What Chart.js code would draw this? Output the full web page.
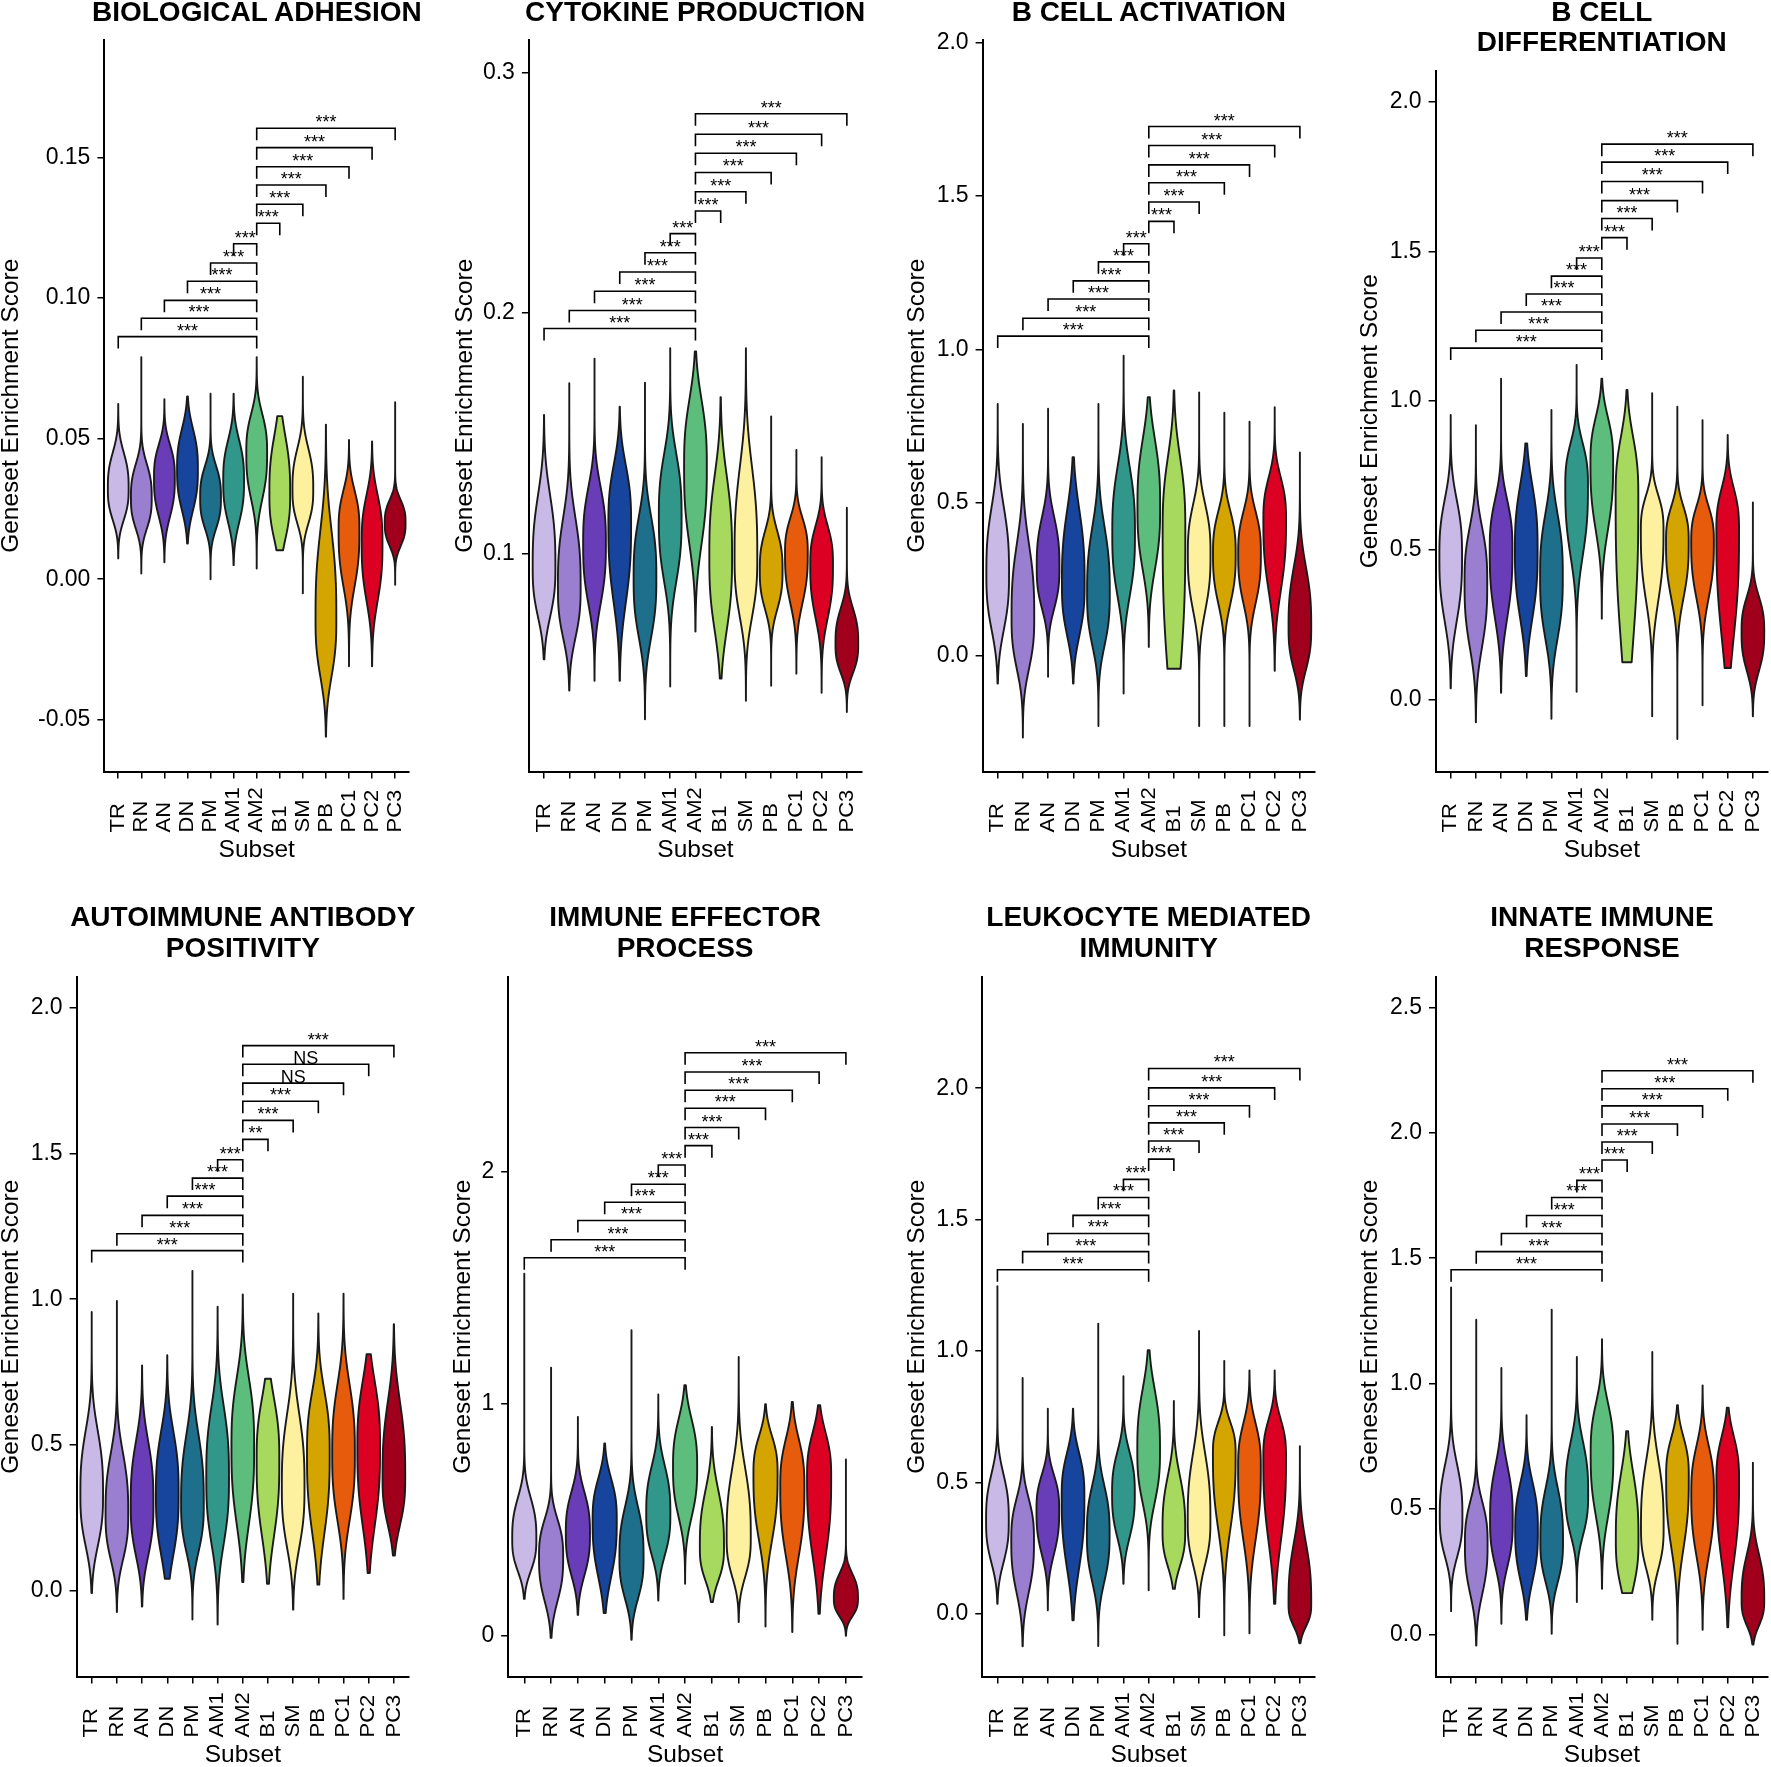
<!DOCTYPE html>
<html>
<head>
<meta charset="utf-8">
<script src="https://cdn.jsdelivr.net/npm/chart.js@4.4.1/dist/chart.umd.min.js"></script>
<style>
html, body { margin: 0; padding: 0; background: #fff; }
body { position: relative; width: 1771px; height: 1767px; overflow: hidden; font-family: "Liberation Sans", Arial, sans-serif; }
canvas { position: absolute; }
.ttl { position: absolute; width: 480px; text-align: center; font-weight: bold; font-size: 28px; line-height: 30.5px; color: #000; white-space: nowrap; }
</style>
</head>
<body>
<script>
const FONT = '"Liberation Sans", Arial, sans-serif';

const subsets = ['TR', 'RN', 'AN', 'DN', 'PM', 'AM1', 'AM2', 'B1', 'SM', 'PB', 'PC1', 'PC2', 'PC3'];
const subsetColors = ['#c9b9e6', '#9a7fd0', '#6a3db8', '#17449c', '#1e6f8c', '#31978a', '#5cbd7c',
                      '#a8d95f', '#fdf1a0', '#d4a500', '#e65c0c', '#dc0022', '#a0001c'];
const AM2 = 6;

// each violin: [min, lower shoulder, widest, upper shoulder, max]
const adhesionViolins = [
  [0.0074, 0.0145, 0.0323, 0.0525, 0.0623], [0.002, 0.0115, 0.029, 0.048, 0.079],
  [0.006, 0.014, 0.036, 0.055, 0.064], [0.0127, 0.016, 0.039, 0.062, 0.065],
  [0.0, 0.0115, 0.029, 0.047, 0.066], [0.005, 0.0115, 0.035, 0.058, 0.066],
  [0.0038, 0.0186, 0.045, 0.067, 0.079], [0.0103, 0.0046, 0.0305, 0.063, 0.058],
  [-0.005, 0.0127, 0.032, 0.055, 0.072], [-0.056, -0.047, -0.014, 0.036, 0.055],
  [-0.031, -0.0146, 0.0175, 0.040, 0.0495], [-0.031, -0.02, 0.013, 0.040, 0.049],
  [-0.002, 0.007, 0.020, 0.033, 0.063]
];
const cytokineViolins = [
  [0.056, 0.0612, 0.0945, 0.1417, 0.1576], [0.043, 0.052, 0.0862, 0.132, 0.1708],
  [0.047, 0.064, 0.104, 0.1417, 0.181], [0.047, 0.060, 0.1125, 0.151, 0.161],
  [0.031, 0.050, 0.090, 0.1306, 0.171], [0.0446, 0.0723, 0.1153, 0.1569, 0.1853],
  [0.0675, 0.0848, 0.136, 0.1805, 0.184], [0.048, 0.05, 0.0987, 0.152, 0.165],
  [0.0387, 0.0585, 0.0987, 0.158, 0.1853], [0.045, 0.067, 0.093, 0.119, 0.157],
  [0.050, 0.067, 0.10, 0.1235, 0.143], [0.042, 0.060, 0.0953, 0.121, 0.140],
  [0.034, 0.043, 0.0624, 0.086, 0.119]
];
const activationViolins = [
  [-0.089, -0.024, 0.269, 0.616, 0.822], [-0.265, -0.143, 0.128, 0.507, 0.757],
  [-0.067, 0.074, 0.29, 0.551, 0.806], [-0.089, -0.035, 0.236, 0.62, 0.648],
  [-0.228, -0.067, 0.204, 0.551, 0.822], [-0.122, 0.074, 0.399, 0.746, 0.979],
  [0.03, 0.16, 0.486, 0.838, 0.844], [-0.041, -0.34, 0.407, 0.793, 0.866],
  [-0.228, 0.039, 0.333, 0.59, 0.859], [-0.228, 0.076, 0.333, 0.554, 0.793],
  [-0.228, 0.076, 0.333, 0.554, 0.764], [-0.048, 0.076, 0.444, 0.664, 0.811],
  [-0.207, -0.126, 0.094, 0.407, 0.664]
];
const differentiationViolins = [
  [0.037, 0.134, 0.479, 0.779, 0.952], [-0.077, 0.045, 0.39, 0.69, 0.918],
  [0.022, 0.134, 0.50, 0.768, 1.074], [0.078, 0.134, 0.50, 0.846, 0.857],
  [-0.065, 0.078, 0.412, 0.746, 0.969], [0.025, 0.339, 0.716, 0.942, 1.12],
  [0.27, 0.433, 0.791, 1.036, 1.074], [0.124, -0.1, 0.678, 0.999, 1.036],
  [-0.057, 0.188, 0.565, 0.754, 1.025], [-0.133, 0.225, 0.528, 0.716, 0.98],
  [-0.02, 0.225, 0.528, 0.716, 0.935], [0.105, 0.0, 0.565, 0.791, 0.885],
  [-0.057, 0.018, 0.225, 0.414, 0.659]
];
const autoimmuneViolins = [
  [-0.009, 0.046, 0.332, 0.676, 0.956], [-0.074, 0.011, 0.263, 0.596, 0.994],
  [-0.055, 0.011, 0.298, 0.641, 0.773], [0.04, -0.004, 0.332, 0.676, 0.808],
  [-0.10, 0.034, 0.298, 0.676, 1.097], [-0.117, 0.023, 0.389, 0.779, 0.974],
  [0.029, 0.069, 0.493, 0.871, 1.016], [0.023, 0.034, 0.447, 0.784, 0.727],
  [-0.066, 0.023, 0.355, 0.756, 1.019], [0.02, 0.034, 0.47, 0.813, 0.951],
  [-0.029, 0.103, 0.47, 0.848, 1.019], [0.06, 0.063, 0.493, 0.85, 0.811],
  [0.12, 0.126, 0.389, 0.802, 0.914]
];
const effectorViolins = [
  [0.159, 0.195, 0.418, 0.698, 1.56], [-0.009, 0.037, 0.339, 0.598, 1.155],
  [0.09, 0.152, 0.44, 0.727, 0.943], [0.098, 0.109, 0.497, 0.784, 0.828],
  [-0.017, 0.052, 0.339, 0.684, 1.316], [0.152, 0.239, 0.526, 0.856, 1.039],
  [0.224, 0.382, 0.727, 1.057, 1.079], [0.145, 0.152, 0.382, 0.77, 0.899],
  [0.059, 0.152, 0.425, 0.899, 1.201], [0.04, 0.239, 0.698, 0.957, 0.997],
  [0.016, 0.167, 0.641, 0.971, 1.007], [0.095, 0.138, 0.684, 0.989, 0.993],
  [0.0, 0.038, 0.161, 0.33, 0.759]
];
const leukocyteViolins = [
  [0.038, 0.10, 0.355, 0.635, 1.246], [-0.124, -0.038, 0.279, 0.533, 0.897],
  [0.013, 0.127, 0.393, 0.609, 0.78], [-0.025, 0.013, 0.444, 0.711, 0.78],
  [-0.123, 0.013, 0.305, 0.596, 1.104], [0.114, 0.19, 0.457, 0.711, 0.904],
  [0.089, 0.305, 0.622, 0.99, 1.003], [0.095, 0.10, 0.317, 0.647, 0.81],
  [-0.013, 0.089, 0.355, 0.761, 1.076], [-0.082, 0.152, 0.609, 0.80, 0.962],
  [-0.074, 0.114, 0.558, 0.825, 0.926], [0.038, 0.082, 0.596, 0.825, 0.926],
  [-0.112, -0.10, 0.038, 0.406, 0.638]
];
const innateViolins = [
  [0.093, 0.215, 0.468, 0.80, 1.383], [-0.044, 0.043, 0.362, 0.628, 1.255],
  [0.043, 0.162, 0.455, 0.80, 1.062], [0.059, 0.096, 0.415, 0.72, 0.874],
  [0.003, 0.109, 0.375, 0.707, 1.295], [0.129, 0.295, 0.561, 0.894, 1.106],
  [0.182, 0.322, 0.721, 1.04, 1.177], [0.165, 0.069, 0.38, 0.80, 0.81],
  [0.059, 0.162, 0.428, 0.854, 1.126], [-0.037, 0.176, 0.628, 0.88, 0.914],
  [0.019, 0.162, 0.561, 0.867, 0.993], [0.029, 0.096, 0.614, 0.894, 0.904],
  [-0.04, -0.024, 0.136, 0.428, 0.685]
];

// height of each AM2 comparison bracket (null = AM2 itself)
const adhesionBrackets = [0.0863, 0.0928, 0.0992, 0.106, 0.1125, 0.1193, null, 0.1266, 0.1334, 0.1402, 0.1467, 0.1535, 0.1604];
const cytokineBrackets = [0.1935, 0.201, 0.209, 0.217, 0.225, 0.233, null, 0.2424, 0.2504, 0.2584, 0.2664, 0.2743, 0.2828];
const activationBrackets = [1.043, 1.101, 1.164, 1.223, 1.285, 1.344, null, 1.417, 1.48, 1.543, 1.601, 1.664, 1.726];
const differentiationBrackets = [1.176, 1.236, 1.297, 1.357, 1.417, 1.478, null, 1.546, 1.61, 1.67, 1.734, 1.799, 1.859];
const autoimmuneBrackets = [1.167, 1.225, 1.288, 1.354, 1.416, 1.479, null, 1.549, 1.614, 1.68, 1.742, 1.807, 1.871];
const effectorBrackets = [1.628, 1.706, 1.789, 1.867, 1.945, 2.028, null, 2.111, 2.189, 2.272, 2.35, 2.428, 2.511];
const leukocyteBrackets = [1.309, 1.378, 1.447, 1.516, 1.584, 1.653, null, 1.73, 1.799, 1.868, 1.933, 2.001, 2.075];
const innateBrackets = [1.454, 1.526, 1.598, 1.67, 1.742, 1.81, null, 1.891, 1.963, 2.035, 2.107, 2.175, 2.247];

const allStars = ['***', '***', '***', '***', '***', '***', '', '***', '***', '***', '***', '***', '***'];
const autoimmuneStars = ['***', '***', '***', '***', '***', '***', '', '**', '***', '***', 'NS', 'NS', '***'];

const adhesionTicks = ['-0.05', '0.00', '0.05', '0.10', '0.15'];
const cytokineTicks = ['0.1', '0.2', '0.3'];
const halfTicks = ['0.0', '0.5', '1.0', '1.5', '2.0'];
const effectorTicks = ['0', '1', '2'];
const innateTicks = ['0.0', '0.5', '1.0', '1.5', '2.0', '2.5'];

const panels = [
  { title: ['BIOLOGICAL ADHESION'], violins: adhesionViolins, brackets: adhesionBrackets, stars: allStars, ticks: adhesionTicks,
    yMin: -0.0684, yMax: 0.1918, axisX: 104.4, rightX: 409.4, topY: 39.5, baseY: 771.5, yTitleX: 11.3, subsetY: 850, titleTop: -3.25 },
  { title: ['CYTOKINE PRODUCTION'], violins: cytokineViolins, brackets: cytokineBrackets, stars: allStars, ticks: cytokineTicks,
    yMin: 0.0093, yMax: 0.3135, axisX: 528.9, rightX: 861.5, topY: 39.5, baseY: 771.5, yTitleX: 465, subsetY: 850, titleTop: -3.25 },
  { title: ['B CELL ACTIVATION'], violins: activationViolins, brackets: activationBrackets, stars: allStars, ticks: halfTicks,
    yMin: -0.376, yMax: 2.008, axisX: 982.6, rightX: 1315, topY: 39.5, baseY: 771.5, yTitleX: 917, subsetY: 850, titleTop: -3.25 },
  { title: ['B CELL', 'DIFFERENTIATION'], violins: differentiationViolins, brackets: differentiationBrackets, stars: allStars, ticks: halfTicks,
    yMin: -0.2418, yMax: 2.104, axisX: 1435.6, rightX: 1768, topY: 71, baseY: 771.5, yTitleX: 1370, subsetY: 850, titleTop: -3.25 },
  { title: ['AUTOIMMUNE ANTIBODY', 'POSITIVITY'], violins: autoimmuneViolins, brackets: autoimmuneBrackets, stars: autoimmuneStars, ticks: halfTicks,
    yMin: -0.2955, yMax: 2.1065, axisX: 76.6, rightX: 409, topY: 977, baseY: 1676.5, yTitleX: 11.3, subsetY: 1755, titleTop: 902.3 },
  { title: ['IMMUNE EFFECTOR', 'PROCESS'], violins: effectorViolins, brackets: effectorBrackets, stars: allStars, ticks: effectorTicks,
    yMin: -0.1754, yMax: 2.8375, axisX: 508.2, rightX: 862, topY: 977, baseY: 1676.5, yTitleX: 463, subsetY: 1755, titleTop: 902.3 },
  { title: ['LEUKOCYTE MEDIATED', 'IMMUNITY'], violins: leukocyteViolins, brackets: leukocyteBrackets, stars: allStars, ticks: halfTicks,
    yMin: -0.2388, yMax: 2.423, axisX: 982.3, rightX: 1315, topY: 977, baseY: 1676.5, yTitleX: 917, subsetY: 1755, titleTop: 902.3 },
  { title: ['INNATE IMMUNE', 'RESPONSE'], violins: innateViolins, brackets: innateBrackets, stars: allStars, ticks: innateTicks,
    yMin: -0.1675, yMax: 2.6207, axisX: 1436, rightX: 1768, topY: 977, baseY: 1676.5, yTitleX: 1370, subsetY: 1755, titleTop: 902.3 }
];

Chart.defaults.font.family = FONT;
Chart.defaults.color = '#000';

// violins, AM2 brackets and bottom-aligned subset labels, drawn on the chart's scales
function violinPlugin(p) {
  return {
    id: 'violins',
    afterDatasetsDraw(chart) {
      const { ctx, scales: { x, y } } = chart;
      ctx.save();
      ctx.lineJoin = 'round';
      p.violins.forEach((v, i) => {
        const [vMin, lo, mid, hi, vMax] = v;
        const cx = x.getPixelForValue(i);
        const half = x.getPixelForValue(i + 0.45) - cx;
        const n = 180, pts = [];
        for (let k = 0; k <= n; k++) {
          const val = vMin + (vMax - vMin) * k / n;
          const t = val >= mid ? (val - mid) / (hi - mid) : (mid - val) / (mid - lo);
          pts.push([y.getPixelForValue(val), half * Math.exp(-2.3 * Math.pow(Math.abs(t), 2.8))]);
        }
        ctx.beginPath();
        pts.forEach(([py, w], k) => k ? ctx.lineTo(cx + w, py) : ctx.moveTo(cx + w, py));
        for (let k = pts.length - 1; k >= 0; k--) ctx.lineTo(cx - pts[k][1], pts[k][0]);
        ctx.closePath();
        ctx.fillStyle = subsetColors[i];
        ctx.fill();
        ctx.strokeStyle = '#1a1a1a';
        ctx.lineWidth = 1.9;
        ctx.stroke();
      });

      ctx.strokeStyle = '#000';
      ctx.lineWidth = 1.6;
      ctx.lineJoin = 'miter';
      ctx.fillStyle = '#000';
      ctx.font = '18px ' + FONT;
      ctx.textAlign = 'center';
      ctx.textBaseline = 'alphabetic';
      p.brackets.forEach((lvl, i) => {
        if (lvl === null) return;
        const x1 = x.getPixelForValue(Math.min(i, AM2));
        const x2 = x.getPixelForValue(Math.max(i, AM2));
        const py = y.getPixelForValue(lvl);
        ctx.beginPath();
        ctx.moveTo(x1, py + 12);
        ctx.lineTo(x1, py);
        ctx.lineTo(x2, py);
        ctx.lineTo(x2, py + 12);
        ctx.stroke();
        ctx.fillText(p.stars[i], (x1 + x2) / 2, py);
      });

      ctx.font = '22px ' + FONT;
      ctx.textAlign = 'left';
      ctx.textBaseline = 'middle';
      subsets.forEach((s, i) => {
        ctx.save();
        ctx.translate(x.getPixelForValue(i), chart.chartArea.bottom + 61);
        ctx.rotate(-Math.PI / 2);
        ctx.scale(1, 0.95);
        ctx.fillText(s, 0, 0);
        ctx.restore();
      });
      ctx.restore();
    }
  };
}

panels.forEach(p => {
  const left = Math.round(p.yTitleX - 12.25);
  const top = Math.round(p.topY - 20);
  const right = Math.round(p.rightX + 12);
  const bottom = Math.round(p.subsetY + 12.25);
  const w = right - left, h = bottom - top;
  const yw = p.axisX - left;
  const xh = bottom - p.baseY;

  const cv = document.createElement('canvas');
  cv.width = w; cv.height = h;
  cv.style.left = left + 'px'; cv.style.top = top + 'px';
  cv.style.width = w + 'px'; cv.style.height = h + 'px';
  document.body.appendChild(cv);

  const ttl = document.createElement('div');
  ttl.className = 'ttl';
  ttl.style.left = ((p.axisX + p.rightX) / 2 - 240) + 'px';
  ttl.style.top = p.titleTop + 'px';
  ttl.innerHTML = p.title.join('<br>');
  document.body.appendChild(ttl);

  const axisLine = { display: true, color: '#000', width: 2 };
  const tickMarks = { display: true, drawOnChartArea: false, drawTicks: true, tickLength: 7, color: '#000', lineWidth: 1.5 };

  new Chart(cv, {
    type: 'scatter',
    data: {
      datasets: [{ data: p.violins.map((v, i) => ({ x: i, y: v[2] })), pointRadius: 0, pointHoverRadius: 0 }]
    },
    options: {
      responsive: false,
      animation: false,
      devicePixelRatio: 1,
      events: [],
      layout: { padding: { top: 20, right: 12, left: 0, bottom: 0 } },
      plugins: { legend: { display: false }, tooltip: { enabled: false } },
      scales: {
        x: {
          type: 'linear', min: -0.6, max: 12.6,
          afterBuildTicks: s => { s.ticks = subsets.map((_, i) => ({ value: i })); },
          afterFit: s => { s.height = xh; s.paddingLeft = 0; s.paddingRight = 0; },
          ticks: { display: false, autoSkip: false },
          grid: tickMarks,
          border: axisLine,
          title: { display: true, text: 'Subset', color: '#000', padding: 0, font: { size: 24.5, lineHeight: 1 } }
        },
        y: {
          type: 'linear', min: p.yMin, max: p.yMax,
          afterBuildTicks: s => { s.ticks = p.ticks.map(t => ({ value: Number(t) })); },
          afterFit: s => { s.width = yw; s.paddingTop = 0; s.paddingBottom = 0; },
          ticks: { autoSkip: false, padding: 7, color: '#000', font: { size: 23 }, callback: (v, i) => p.ticks[i] },
          grid: tickMarks,
          border: axisLine,
          title: { display: true, text: 'Geneset Enrichment Score', color: '#000', padding: 0, font: { size: 24.5, lineHeight: 1 } }
        }
      }
    },
    plugins: [violinPlugin(p)]
  });
});
</script>
</body>
</html>
